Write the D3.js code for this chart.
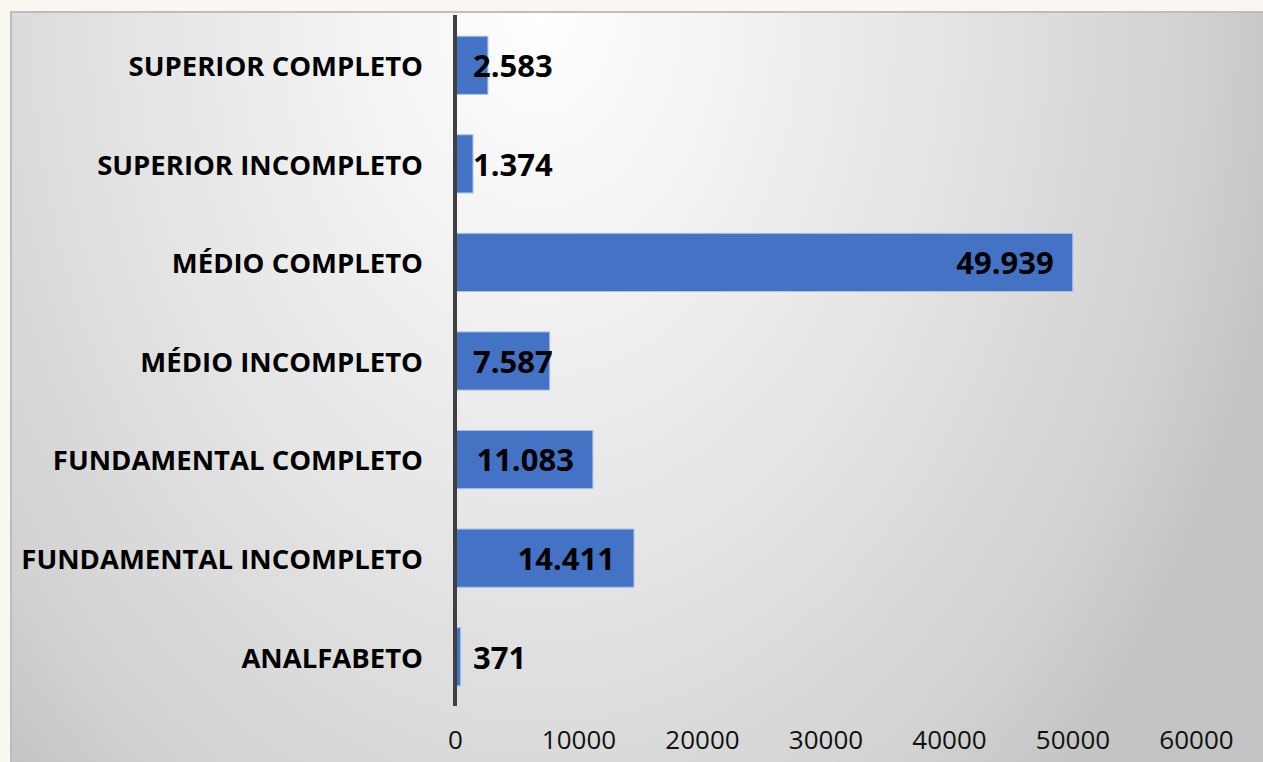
<!DOCTYPE html>
<html lang="pt">
<head>
<meta charset="utf-8">
<title>Escolaridade</title>
<script src="https://d3js.org/d3.v7.min.js"></script>
<style>
  html, body { margin: 0; padding: 0; background: #faf6f0; }
  svg { display: block; }
</style>
</head>
<body>
<div id="chart"></div>
<script>
// categories, top to bottom
var categorias = [
  "SUPERIOR COMPLETO",
  "SUPERIOR INCOMPLETO",
  "MÉDIO COMPLETO",
  "MÉDIO INCOMPLETO",
  "FUNDAMENTAL COMPLETO",
  "FUNDAMENTAL INCOMPLETO",
  "ANALFABETO"
];
var valores = [2583, 1374, 49939, 7587, 11083, 14411, 371];
var rotulos = ["2.583", "1.374", "49.939", "7.587", "11.083", "14.411", "371"];
var ticksX = [0, 10000, 20000, 30000, 40000, 50000, 60000];

var width = 1263, height = 762;
var axisX = 455;

var svg = d3.select("#chart").append("svg")
  .attr("width", width)
  .attr("height", height);

// background gradient of the plot panel
var defs = svg.append("defs");
var grad = defs.append("radialGradient")
  .attr("id", "bg")
  .attr("gradientUnits", "userSpaceOnUse")
  .attr("cx", 540).attr("cy", 10).attr("r", 760)
  .attr("gradientTransform", "translate(540,10) scale(1,1.4) translate(-540,-10)");
grad.append("stop").attr("offset", 0).attr("stop-color", "#ffffff");
grad.append("stop").attr("offset", 0.5).attr("stop-color", "#e6e6e6");
grad.append("stop").attr("offset", 0.85).attr("stop-color", "#d2d2d2");
grad.append("stop").attr("offset", 1).attr("stop-color", "#c4c4c4");

svg.append("rect")
  .attr("x", 10).attr("y", 11)
  .attr("width", width - 10).attr("height", height - 11)
  .attr("fill", "url(#bg)");
// thin panel edge
svg.append("path")
  .attr("d", "M11," + height + "V12H" + width)
  .attr("fill", "none")
  .attr("stroke", "#bdbdbd")
  .attr("stroke-width", 2);

// scales
var x = d3.scaleLinear().domain([0, 60000]).range([axisX, 1196]);
var y = d3.scaleBand().domain(categorias).range([16, 706])
  .paddingInner(0.41).paddingOuter(0.205);

// bars
svg.selectAll("rect.bar")
  .data(valores)
  .enter().append("rect")
  .attr("class", "bar")
  .attr("x", x(0) + 1)
  .attr("y", function(d, i){ return y(categorias[i]); })
  .attr("width", function(d){ return x(d) - x(0); })
  .attr("height", y.bandwidth())
  .attr("fill", "#4472c4")
  .attr("stroke", "#a9c0ea")
  .attr("stroke-width", 1);

// category labels
var yAxis = d3.axisLeft(y).tickSize(0).tickPadding(32);
var gy = svg.append("g")
  .attr("transform", "translate(" + axisX + ",2)")
  .call(yAxis);
gy.select(".domain").remove();
gy.selectAll("text")
  .attr("font-family", "Open Sans")
  .attr("font-weight", "bold")
  .attr("font-size", 27.5)
  .attr("fill", "#000");

// x axis tick labels (no line, no ticks)
var xAxis = d3.axisBottom(x).tickValues(ticksX).tickSize(0).tickPadding(0)
  .tickFormat(d3.format("d"));
var gx = svg.append("g")
  .attr("transform", "translate(0,731)")
  .call(xAxis);
gx.select(".domain").remove();
gx.selectAll("text")
  .attr("font-family", "Open Sans")
  .attr("font-size", 26)
  .attr("fill", "#111");

// vertical category axis line
svg.append("line")
  .attr("x1", axisX).attr("x2", axisX)
  .attr("y1", 15).attr("y2", 706)
  .attr("stroke", "#404040")
  .attr("stroke-width", 4);

// value labels: inside the end of the bar, or just after the axis if too narrow
var lbl = svg.selectAll("text.valor")
  .data(valores)
  .enter().append("text")
  .attr("class", "valor")
  .attr("font-family", "Open Sans")
  .attr("font-weight", "bold")
  .attr("font-size", 31)
  .attr("fill", "#000")
  .attr("dy", "0.35em")
  .attr("y", function(d, i){ return y(categorias[i]) + y.bandwidth() / 2 + 1; })
  .text(function(d, i){ return rotulos[i]; });

lbl.each(function(d){
  var t = d3.select(this);
  var w = this.getComputedTextLength();
  var end = x(d) - 18;
  if (end - w >= 474) {
    t.attr("x", end).attr("text-anchor", "end");
  } else {
    t.attr("x", 473).attr("text-anchor", "start");
  }
});
</script>
</body>
</html>
